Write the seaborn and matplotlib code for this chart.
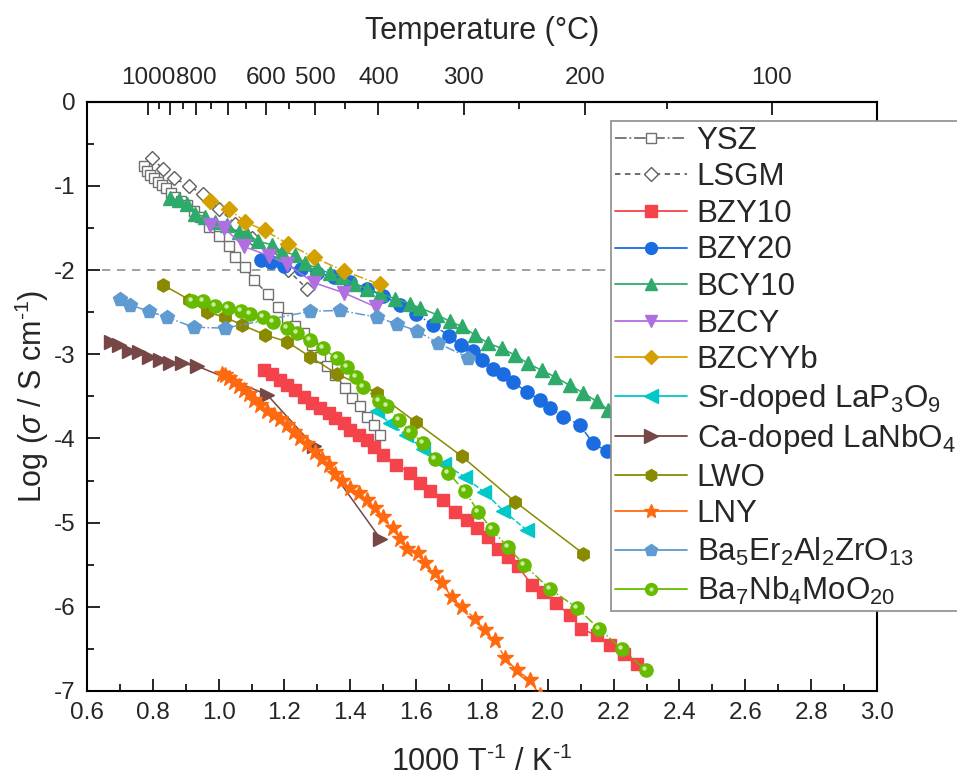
import numpy as np
import seaborn as sns
import matplotlib.pyplot as plt
from matplotlib.lines import Line2D
from matplotlib.ticker import MultipleLocator, FixedLocator, FixedFormatter
from matplotlib.transforms import offset_copy

sns.set_style("ticks")
plt.rcParams['font.family'] = ['Liberation Sans', 'DejaVu Sans']
plt.rcParams['mathtext.fontset'] = 'custom'
plt.rcParams['mathtext.rm'] = 'Liberation Sans'
plt.rcParams['mathtext.it'] = 'Liberation Sans:italic'
plt.rcParams['mathtext.default'] = 'regular'
plt.rcParams['axes.unicode_minus'] = False

# ---- data (x = 1000/T in 1/K, y = log conductivity) ----
ysz_x = [0.774, 0.783, 0.792, 0.804, 0.816, 0.829, 0.841, 0.855, 0.868, 0.886, 0.904, 0.924,
         0.944, 0.970, 1.000, 1.030, 1.051, 1.079, 1.108, 1.150, 1.180, 1.208, 1.232, 1.258,
         1.285, 1.308, 1.330, 1.354, 1.385, 1.405, 1.430, 1.450, 1.471, 1.489]
ysz_y = [-0.76, -0.82, -0.87, -0.91, -0.95, -0.99, -1.03, -1.08, -1.13, -1.18, -1.23, -1.30,
         -1.37, -1.49, -1.60, -1.72, -1.84, -1.96, -2.12, -2.29, -2.44, -2.57, -2.66, -2.75,
         -2.89, -3.03, -3.14, -3.25, -3.40, -3.52, -3.62, -3.74, -3.84, -3.96]

lsgm_x = [0.797, 0.831, 0.865, 0.909, 0.952, 1.00, 1.05, 1.10, 1.16, 1.21, 1.268]
lsgm_y = [-0.67, -0.80, -0.91, -1.00, -1.10, -1.27, -1.45, -1.62, -1.83, -2.00, -2.22]

bzy10_x = [1.137, 1.162, 1.187, 1.208, 1.233, 1.258, 1.283, 1.309, 1.334, 1.354, 1.380, 1.400,
           1.425, 1.450, 1.471, 1.500, 1.540, 1.581, 1.611, 1.642, 1.682, 1.718, 1.753, 1.784,
           1.819, 1.850, 1.880, 1.910, 1.951, 1.986, 2.026, 2.067, 2.102, 2.148, 2.188, 2.23, 2.27]
bzy10_y = [-3.19, -3.23, -3.31, -3.37, -3.43, -3.51, -3.58, -3.64, -3.70, -3.76, -3.82, -3.90,
           -3.96, -4.02, -4.10, -4.20, -4.31, -4.41, -4.53, -4.63, -4.73, -4.87, -4.97, -5.07,
           -5.17, -5.31, -5.41, -5.52, -5.74, -5.82, -5.96, -6.10, -6.26, -6.34, -6.45, -6.56, -6.68]

bzy20_x = [1.13, 1.16, 1.20, 1.25, 1.30, 1.35, 1.40, 1.45, 1.50, 1.55, 1.60, 1.65, 1.70, 1.735,
           1.774, 1.799, 1.834, 1.865, 1.895, 1.936, 1.976, 2.006, 2.047, 2.097, 2.138, 2.179,
           2.22, 2.26]
bzy20_y = [-1.88, -1.91, -1.95, -1.99, -2.03, -2.08, -2.14, -2.22, -2.31, -2.41, -2.52, -2.65,
           -2.78, -2.89, -2.96, -3.07, -3.17, -3.23, -3.33, -3.45, -3.54, -3.64, -3.74, -3.84,
           -4.06, -4.15, -4.27, -4.38]

bcy10_x = [0.853, 0.878, 0.904, 0.929, 0.959, 0.990, 1.025, 1.061, 1.086, 1.121, 1.162, 1.192,
           1.233, 1.263, 1.299, 1.339, 1.375, 1.410, 1.450, 1.491, 1.536, 1.581, 1.612, 1.662,
           1.703, 1.738, 1.779, 1.819, 1.860, 1.900, 1.940, 1.981, 2.022, 2.067, 2.108, 2.148,
           2.184, 2.22, 2.26]
bcy10_y = [-1.14, -1.17, -1.21, -1.33, -1.37, -1.43, -1.47, -1.55, -1.57, -1.66, -1.70, -1.78,
           -1.82, -1.92, -1.98, -2.04, -2.08, -2.16, -2.22, -2.28, -2.34, -2.40, -2.45, -2.53,
           -2.61, -2.67, -2.77, -2.87, -2.93, -3.01, -3.11, -3.19, -3.27, -3.37, -3.46, -3.56,
           -3.66, -3.76, -3.86]

bzcy_x = [0.975, 1.017, 1.076, 1.152, 1.208, 1.289, 1.380, 1.478]
bzcy_y = [-1.47, -1.50, -1.72, -1.83, -1.93, -2.15, -2.27, -2.44]

bzcyyb_x = [0.975, 1.030, 1.081, 1.140, 1.211, 1.289, 1.380, 1.489]
bzcyyb_y = [-1.18, -1.27, -1.43, -1.53, -1.69, -1.85, -2.01, -2.17]

lap_x = [1.48, 1.52, 1.57, 1.622, 1.685, 1.748, 1.807, 1.865, 1.936]
lap_y = [-3.68, -3.82, -3.96, -4.13, -4.30, -4.46, -4.64, -4.86, -5.09]

lanbo_x = [0.672, 0.696, 0.727, 0.757, 0.787, 0.823, 0.853, 0.889, 0.934, 1.147, 1.289, 1.491]
lanbo_y = [-2.86, -2.89, -2.96, -2.97, -3.03, -3.07, -3.11, -3.11, -3.14, -3.48, -4.09, -5.19]

lwo_x = [0.832, 0.910, 0.964, 1.019, 1.070, 1.141, 1.207, 1.278, 1.358, 1.480, 1.600, 1.738,
         1.900, 2.108]
lwo_y = [-2.18, -2.35, -2.50, -2.56, -2.65, -2.77, -2.85, -3.03, -3.23, -3.46, -3.81, -4.21,
         -4.75, -5.37]

lny_x = [1.010, 1.020, 1.030, 1.046, 1.061, 1.076, 1.091, 1.106, 1.127, 1.147, 1.167, 1.187,
         1.208, 1.228, 1.248, 1.268, 1.294, 1.314, 1.334, 1.354, 1.375, 1.400, 1.425, 1.450,
         1.475, 1.500, 1.530, 1.551, 1.571, 1.606, 1.627, 1.657, 1.677, 1.708, 1.738, 1.779,
         1.809, 1.839, 1.870, 1.905, 1.946, 1.975]
lny_y = [-3.24, -3.25, -3.28, -3.33, -3.38, -3.43, -3.47, -3.54, -3.60, -3.67, -3.72, -3.77,
         -3.84, -3.92, -4.00, -4.07, -4.16, -4.24, -4.32, -4.42, -4.51, -4.59, -4.65, -4.73,
         -4.83, -4.93, -5.07, -5.19, -5.31, -5.36, -5.48, -5.60, -5.72, -5.88, -6.00, -6.14,
         -6.28, -6.39, -6.61, -6.75, -6.87, -7.05]

bea_x = [0.700, 0.730, 0.787, 0.843, 0.924, 1.020, 1.278, 1.370, 1.480, 1.541, 1.602, 1.667, 1.758]
bea_y = [-2.34, -2.41, -2.49, -2.56, -2.68, -2.69, -2.49, -2.48, -2.56, -2.64, -2.72, -2.87, -3.04]

bnm_x = [0.919, 0.953, 0.989, 1.029, 1.069, 1.095, 1.136, 1.166, 1.207, 1.237, 1.277, 1.318,
         1.358, 1.389, 1.417, 1.440, 1.487, 1.510, 1.549, 1.581, 1.620, 1.657, 1.698, 1.748,
         1.789, 1.829, 1.878, 1.928, 2.006, 2.088, 2.155, 2.225, 2.297]
bnm_y = [-2.37, -2.37, -2.43, -2.45, -2.49, -2.52, -2.56, -2.62, -2.69, -2.75, -2.83, -2.93,
         -3.05, -3.15, -3.27, -3.39, -3.56, -3.62, -3.78, -3.92, -4.05, -4.24, -4.41, -4.63,
         -4.87, -5.08, -5.29, -5.50, -5.79, -6.01, -6.26, -6.50, -6.75]

top_ticks = [1000, 900, 800, 700, 600, 500, 400, 300, 200, 100]
top_labels = ['1000', '', '800', '', '600', '500', '400', '300', '200', '100']
top_minor = [950, 850, 750, 650, 550, 450, 350, 250, 150]

# label, x, y, color, marker, size, line style, face colour
series = [
    ('YSZ', ysz_x, ysz_y, '#707070', 's', 7.4, '-.', 'white'),
    ('LSGM', lsgm_x, lsgm_y, '#606060', 'D', 7.4, (0, (3, 2.5)), 'white'),
    ('BZY10', bzy10_x, bzy10_y, '#F4434A', 's', 8.8, '-', None),
    ('BZY20', bzy20_x, bzy20_y, '#1A6CE0', 'o', 9.5, '-.', None),
    ('BCY10', bcy10_x, bcy10_y, '#2EAA6A', '^', 9.5, '-', None),
    ('BZCY', bzcy_x, bzcy_y, '#B06FE0', 'v', 9.5, '-', None),
    ('BZCYYb', bzcyyb_x, bzcyyb_y, '#D4A000', 'D', 8.3, '-.', None),
    ('Sr-doped LaP$_3$O$_9$', lap_x, lap_y, '#00C8C8', '<', 10.5, '--', None),
    ('Ca-doped LaNbO$_4$', lanbo_x, lanbo_y, '#774646', '>', 10.5, '-', None),
    ('LWO', lwo_x, lwo_y, '#8A8A00', 'h', 9.5, '-', None),
    ('LNY', lny_x, lny_y, '#FF6A10', '*', 12, '--', None),
    ('Ba$_5$Er$_2$Al$_2$ZrO$_{13}$', bea_x, bea_y, '#5F9BD0', 'p', 10, '-.', None),
    ('Ba$_7$Nb$_4$MoO$_{20}$', bnm_x, bnm_y, '#66BB00', 'o', 9.5, '-.', None),
]

fig = plt.figure(figsize=(9.57, 7.82), dpi=100)
ax = fig.add_axes([0.0909, 0.1164, 0.8255, 0.7536])

ax.axhline(-2, color='#909090', ls=(0, (5, 4)), lw=1.2, zorder=0.5)

handles = []
labels = []
for i, (lab, xs, ys, col, mk, ms, ls, fc) in enumerate(series):
    face = col if fc is None else fc
    sns.lineplot(x=xs, y=ys, ax=ax, sort=False, estimator=None, color=col,
                 marker=mk, markersize=ms, linestyle=ls, linewidth=1.1,
                 markerfacecolor=face, markeredgecolor=col, markeredgewidth=1.0,
                 zorder=2 + i)
    h = Line2D([], [], color=col, marker=mk, markersize=ms * 0.9,
               linestyle='-' if fc is None else ls, linewidth=1.3,
               markerfacecolor=face, markeredgecolor=col)
    handles.append(h)
    labels.append(lab)

# glossy highlight on the Ba7Nb4MoO20 spheres
shine = offset_copy(ax.transData, fig=fig, x=-2, y=2, units='dots')
ax.plot(bnm_x, bnm_y, 'o', ms=3.2, color='#C9ECA0', mec='none', transform=shine,
        zorder=2 + len(series))
handles[-1] = (handles[-1], Line2D([], [], ls='none', marker='o', ms=3,
                                   color='#C9ECA0', mec='none'))

ax.set_xlim(0.6, 3.0)
ax.set_ylim(-7, 0)
ax.xaxis.set_major_locator(MultipleLocator(0.2))
ax.xaxis.set_minor_locator(MultipleLocator(0.1))
ax.yaxis.set_major_locator(MultipleLocator(1))
ax.yaxis.set_minor_locator(MultipleLocator(0.5))
ax.tick_params(which='both', direction='in', top=False, right=False, width=1.4)
ax.tick_params(which='major', length=9, labelsize=17.5, pad=8)
ax.tick_params(which='minor', length=5)
for sp in ax.spines.values():
    sp.set_linewidth(1.5)
    sp.set_color('black')

ax.set_xlabel(r'1000 T$^{\text{-1}}$ / K$^{\text{-1}}$', fontsize=22, labelpad=16)
ax.set_ylabel(r'Log ($\mathit{\sigma}$ / S cm$^{\text{-1}}$)', fontsize=22, labelpad=2)


def to_celsius(x):
    x = np.asarray(x, dtype=float)
    with np.errstate(divide='ignore', invalid='ignore'):
        return 1000.0 / x - 273.15


def to_inverse(t):
    t = np.asarray(t, dtype=float)
    with np.errstate(divide='ignore', invalid='ignore'):
        return 1000.0 / (t + 273.15)


secax = ax.secondary_xaxis('top', functions=(to_celsius, to_inverse))
secax.xaxis.set_major_locator(FixedLocator(top_ticks))
secax.xaxis.set_major_formatter(FixedFormatter(top_labels))
secax.xaxis.set_minor_locator(FixedLocator(top_minor))
secax.tick_params(which='both', direction='in', width=1.4)
secax.tick_params(which='major', length=9, labelsize=17.5, pad=9)
secax.tick_params(which='minor', length=5)
secax.spines['top'].set_linewidth(1.5)
secax.set_xlabel('Temperature (°C)', fontsize=22, labelpad=20)

leg = ax.legend(handles, labels, loc='upper left', bbox_to_anchor=(0.663, 0.967),
                fontsize=22.5, frameon=True, fancybox=False, edgecolor='#8c8c8c',
                framealpha=1, handlelength=2.3, handletextpad=0.3, borderpad=0.15,
                labelspacing=0.21, borderaxespad=0)
leg.get_frame().set_linewidth(1.2)
leg.set_zorder(50)

fig.savefig('out.png', dpi=100)
